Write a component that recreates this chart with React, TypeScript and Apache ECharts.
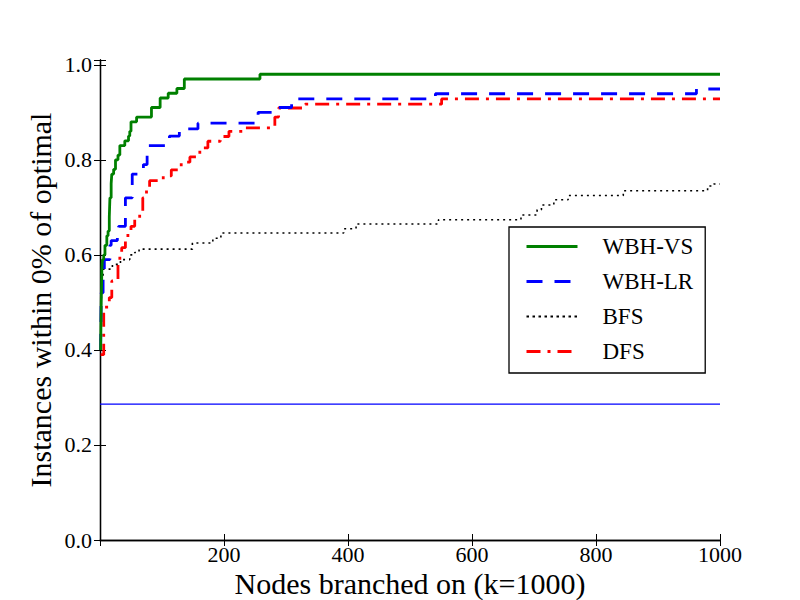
import React, { useEffect, useRef } from "react";
import * as echarts from "echarts";

const seriesNames = ["WBH-VS", "WBH-LR", "BFS", "DFS"];
const xTicks = [200, 400, 600, 800, 1000];
const yTicks = [0.0, 0.2, 0.4, 0.6, 0.8, 1.0];

// [nodes branched (k), fraction of instances] — value holds from x onwards
const wbhVs: [number, number][] = [
  [1, 0.4], [2, 0.5], [3, 0.57], [4, 0.59], [6, 0.6], [8, 0.62], [11, 0.64], [13, 0.65],
  [15, 0.68], [16, 0.72], [18, 0.75], [19, 0.77], [22, 0.78], [25, 0.8], [29, 0.81],
  [32, 0.83], [40, 0.84], [46, 0.85], [48, 0.86], [50, 0.88], [59, 0.89], [83, 0.91],
  [97, 0.93], [110, 0.94], [124, 0.95], [136, 0.97], [258, 0.98], [1000, 0.98],
];
const wbhLr: [number, number][] = [
  [1, 0.4], [2, 0.52], [5, 0.57], [7, 0.59], [16, 0.62], [18, 0.63], [28, 0.65], [30, 0.66],
  [41, 0.72], [52, 0.77], [62, 0.78], [70, 0.79], [76, 0.83], [105, 0.84], [112, 0.85],
  [128, 0.865], [158, 0.877], [255, 0.9], [278, 0.91], [309, 0.928], [541, 0.939],
  [962, 0.949], [1000, 0.949],
];
const bfs: [number, number][] = [
  [1, 0.42], [2, 0.5], [3, 0.55], [5, 0.57], [20, 0.58], [33, 0.59], [48, 0.6], [56, 0.605],
  [63, 0.612], [149, 0.625], [182, 0.635], [195, 0.646], [393, 0.655], [413, 0.665],
  [546, 0.674], [679, 0.684], [705, 0.695], [712, 0.705], [732, 0.716], [755, 0.725],
  [844, 0.735], [980, 0.745], [990, 0.749], [1000, 0.749],
];
const dfs: [number, number][] = [
  [1, 0.39], [6, 0.49], [15, 0.51], [19, 0.545], [29, 0.58], [32, 0.6], [35, 0.615],
  [41, 0.63], [45, 0.645], [50, 0.66], [56, 0.675], [64, 0.69], [69, 0.72], [75, 0.74],
  [80, 0.756], [102, 0.766], [115, 0.779], [131, 0.795], [145, 0.806], [161, 0.825],
  [174, 0.839], [194, 0.849], [208, 0.86], [231, 0.867], [282, 0.89], [288, 0.909],
  [331, 0.917], [551, 0.928], [1000, 0.928],
];
const baselineValue = 0.286;
const xRange = [0, 1000];

const FONT = "Liberation Serif";

export default function App() {
  const ref = useRef<HTMLDivElement>(null);
  useEffect(() => {
    if (!ref.current) return;
    const chart = echarts.init(ref.current, null, { renderer: "svg" });
    const yFmt = (v: number) =>
      yTicks.some((t) => Math.abs(t - v) < 1e-6) ? v.toFixed(1) : "";
    const xFmt = (v: number) =>
      xTicks.some((t) => Math.abs(t - v) < 1e-6) ? String(Math.round(v)) : "";
    const axisCommon = {
      splitLine: { show: false },
      axisLine: { show: true, lineStyle: { color: "#000", width: 1.3 } },
      axisTick: { show: true, inside: true, length: 6, lineStyle: { color: "#000", width: 1 } },
    };
    const colors = ["#008000", "#0000ff", "#000000", "#ff0000"];
    const datas = [wbhVs, wbhLr, bfs, dfs];
    const styles: any[] = [
      { type: "solid", width: 2.8 },
      { type: [16, 12], width: 2.8 },
      { type: [2, 4], width: 1.6 },
      { type: [14, 7, 3, 7], width: 2.8 },
    ];
    const legendStyles: any[] = [
      { type: "solid", width: 3 },
      { type: [16, 12], width: 3 },
      { type: [2.5, 3.5], width: 2 },
      { type: [14, 7, 3, 7], width: 3 },
    ];
    chart.setOption({
      animation: false,
      backgroundColor: "#fff",
      grid: {
        left: 100,
        right: 80,
        top: 60,
        bottom: 60,
        containLabel: false,
        outerBoundsMode: "none",
      },
      legend: {
        orient: "vertical",
        left: 509,
        top: 227,
        data: seriesNames.map((name, i) => ({
          name,
          lineStyle: { color: colors[i], ...legendStyles[i] },
        })),
        itemWidth: 51,
        itemHeight: 20,
        itemGap: 12,
        padding: [8, 12, 10, 16],
        borderColor: "#000",
        borderWidth: 1.3,
        backgroundColor: "#fff",
        itemStyle: { opacity: 0 },
        textStyle: { fontFamily: FONT, fontSize: 23, color: "#000", padding: [0, 0, 0, 20], lineHeight: 20 },
      },
      xAxis: [
        {
          type: "value",
          position: "bottom",
          min: xRange[0],
          max: xRange[1],
          interval: 200,
          ...axisCommon,
          axisLabel: {
            formatter: xFmt,
            fontFamily: FONT,
            fontSize: 22,
            color: "#000",
            margin: 3.5,
          },
          name: "Nodes branched on (k=1000)",
          nameLocation: "middle",
          nameGap: 28.4,
          nameMoveOverlap: false,
          nameTextStyle: { fontFamily: FONT, fontSize: 30, color: "#000" },
        },
        {
          type: "value",
          position: "top",
          min: xRange[0],
          max: xRange[1],
          interval: 200,
          ...axisCommon,
          axisLabel: { show: false },
        },
      ],
      yAxis: [
        {
          type: "value",
          position: "left",
          min: 0,
          max: 1.01,
          interval: 0.2,
          ...axisCommon,
          axisLabel: { formatter: yFmt, fontFamily: FONT, fontSize: 22, color: "#000", margin: 8 },
          name: "Instances within 0% of optimal",
          nameLocation: "middle",
          nameGap: 45,
          nameMoveOverlap: false,
          nameTextStyle: { fontFamily: FONT, fontSize: 30, color: "#000" },
        },
        {
          type: "value",
          position: "right",
          min: 0,
          max: 1.01,
          interval: 0.2,
          ...axisCommon,
          axisLabel: { show: false },
        },
      ],
      series: [
        ...seriesNames.map((name, i) => ({
          name,
          type: "line",
          step: "end",
          data: datas[i],
          symbol: "none",
          color: colors[i],
          lineStyle: { color: colors[i], ...styles[i] },
          z: 10 - i,
        })),
        {
          name: "baseline",
          type: "line",
          data: [
            [xRange[0], baselineValue],
            [xRange[1], baselineValue],
          ],
          symbol: "none",
          color: "#0000ff",
          lineStyle: { color: "#0000ff", width: 1.2 },
        },
      ],
    });
    return () => chart.dispose();
  }, []);
  return (
    <div
      ref={ref}
      style={{ position: "absolute", left: 0, top: 0, width: 800, height: 600 }}
    />
  );
}
